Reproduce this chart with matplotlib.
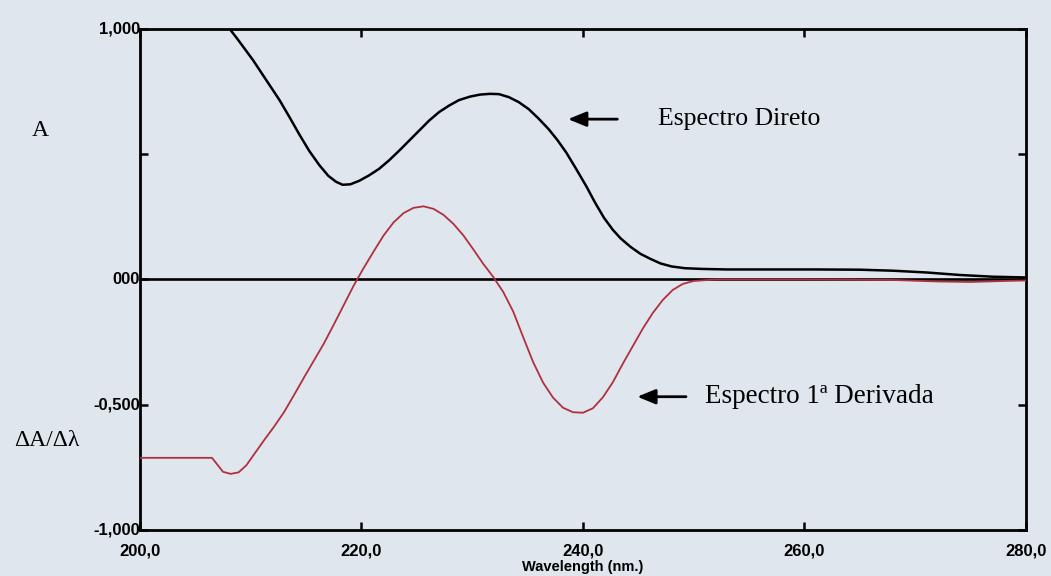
import matplotlib
matplotlib.use("Agg")
import matplotlib.pyplot as plt

# Direct UV absorption spectrum (wavelength in nm, absorbance)
wl_direct = [208.1, 208.8, 209.5, 210.2, 210.8, 211.7, 212.6, 213.5, 214.4, 215.3,
             216.2, 217.0, 217.7, 218.3, 219.0, 219.8, 220.7, 221.6, 222.5, 223.4,
             224.3, 225.2, 226.1, 227.0, 227.9, 228.8, 229.8, 230.7, 231.6, 232.4,
             233.3, 234.2, 235.1, 236.0, 236.9, 237.7, 238.5, 239.4, 240.3, 241.1,
             241.9, 242.7, 243.4, 244.3, 245.2, 246.1, 247.0, 248.0, 249.2, 250.8,
             253.0, 257.0, 261.0, 265.0, 268.0, 271.0, 274.0, 277.0, 280.0]
abs_direct = [1.000, 0.960, 0.918, 0.876, 0.836, 0.776, 0.716, 0.648, 0.578, 0.512,
              0.456, 0.414, 0.390, 0.378, 0.380, 0.394, 0.416, 0.442, 0.476, 0.514,
              0.554, 0.594, 0.634, 0.668, 0.694, 0.716, 0.730, 0.738, 0.741, 0.740,
              0.728, 0.708, 0.680, 0.642, 0.600, 0.556, 0.506, 0.440, 0.372, 0.306,
              0.246, 0.198, 0.164, 0.130, 0.102, 0.082, 0.064, 0.052, 0.045, 0.042,
              0.040, 0.040, 0.040, 0.039, 0.035, 0.028, 0.018, 0.011, 0.008]

# First-derivative spectrum (dA/dλ)
wl_deriv = [200.0, 206.5, 207.0, 207.5, 208.2, 208.9, 209.6, 210.3, 211.2, 212.1,
            213.0, 213.9, 214.8, 215.7, 216.6, 217.5, 218.4, 219.3, 220.2, 221.1,
            222.0, 222.9, 223.8, 224.7, 225.6, 226.5, 227.4, 228.3, 229.2, 230.1,
            231.0, 231.9, 232.8, 233.7, 234.6, 235.5, 236.4, 237.3, 238.2, 239.1,
            240.0, 240.9, 241.8, 242.7, 243.6, 244.5, 245.4, 246.3, 247.2, 248.1,
            249.0, 250.0, 252.0, 260.0, 268.0, 272.0, 275.0, 278.0, 280.0]
val_deriv = [-0.712, -0.712, -0.740, -0.768, -0.776, -0.770, -0.742, -0.698, -0.642, -0.588,
             -0.530, -0.462, -0.392, -0.324, -0.256, -0.180, -0.102, -0.024, 0.046, 0.112,
             0.176, 0.228, 0.265, 0.286, 0.292, 0.282, 0.258, 0.222, 0.176, 0.120,
             0.062, 0.010, -0.050, -0.128, -0.230, -0.330, -0.412, -0.472, -0.512, -0.530,
             -0.532, -0.514, -0.470, -0.410, -0.336, -0.266, -0.196, -0.134, -0.082, -0.042,
             -0.018, -0.006, 0.000, 0.000, -0.002, -0.008, -0.010, -0.006, -0.004]

x_ticks = [200, 220, 240, 260, 280]
x_tick_labels = ["200,0", "220,0", "240,0", "260,0", "280,0"]
y_ticks = [-1.0, -0.5, 0.0, 0.5, 1.0]
y_tick_labels = ["-1,000", "-0,500", "000", "", "1,000"]

bg = "#dfe6ee"
tick_font = ["Liberation Sans Narrow", "Liberation Sans", "DejaVu Sans"]
serif_font = ["Liberation Serif", "DejaVu Serif"]

fig = plt.figure(figsize=(10.51, 5.76), dpi=100, facecolor=bg)
ax = fig.add_axes([0.1332, 0.0799, 0.8430, 0.8698], facecolor=bg)

ax.plot(wl_direct, abs_direct, color="black", lw=1.8, zorder=3)
ax.plot(wl_deriv, val_deriv, color="#b0303e", lw=1.3, zorder=3)
ax.axhline(0, color="black", lw=1.9, zorder=2)

ax.set_xlim(200, 280)
ax.set_ylim(-1.0, 1.0)
ax.set_xticks(x_ticks)
ax.set_xticklabels(x_tick_labels)
ax.set_yticks(y_ticks)
ax.set_yticklabels(y_tick_labels)
ax.tick_params(direction="in", length=6, width=1.8, top=True, right=True,
               labeltop=False, labelright=False)
ax.tick_params(axis="x", pad=9.5)
ax.tick_params(axis="y", pad=0)
for lab in ax.get_xticklabels() + ax.get_yticklabels():
    lab.set_fontfamily(tick_font)
    lab.set_fontweight("bold")
    lab.set_fontsize(12)
for lab in ax.get_yticklabels():
    lab.set_verticalalignment("center")
for sp in ax.spines.values():
    sp.set_linewidth(2.0)
    sp.set_color("black")

ax.set_xlabel("Wavelength (nm.)", fontfamily=tick_font, fontweight="bold",
              fontsize=10.5, labelpad=1)

# Axis captions
fig.text(40 / 1051, 1 - 130 / 576, "A", fontfamily=serif_font, fontsize=17,
         ha="center", va="center")
fig.text(47 / 1051, 1 - 441 / 576, "ΔA/Δλ", fontfamily=serif_font, fontsize=17,
         ha="center", va="center")

# Curve annotations with arrows
arrow = dict(arrowstyle="-|>,head_length=1.1,head_width=0.45", color="black", lw=2.0,
             shrinkA=0, shrinkB=0)
ax.annotate("", xy=(238.65, 0.64), xytext=(243.1, 0.64), arrowprops=arrow)
ax.text(246.8, 0.64, "Espectro Direto", fontfamily=serif_font, fontsize=18.5,
        ha="left", va="center")
ax.annotate("", xy=(244.9, -0.468), xytext=(249.3, -0.468), arrowprops=arrow)
ax.text(251.0, -0.468, "Espectro 1ª Derivada", fontfamily=serif_font, fontsize=19.5,
        ha="left", va="center")

fig.savefig("out.png", dpi=100, facecolor=bg)
